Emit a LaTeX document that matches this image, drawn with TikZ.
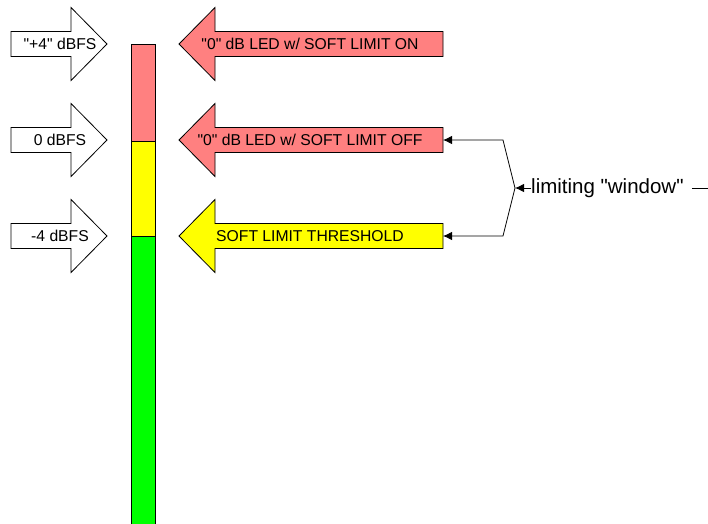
\documentclass[tikz,border=0pt]{standalone}
\usepackage{fontspec}
\setmainfont{Liberation Sans}[Ligatures=TeXOff]
\usetikzlibrary{arrows.meta}
\definecolor{salmon}{HTML}{FF8080}
\definecolor{yel}{HTML}{FFFF00}
\definecolor{grn}{HTML}{00FF00}
\begin{document}
\begin{tikzpicture}[x=1pt,y=-1pt,
  outl/.style={draw=black,line width=0.8pt,line join=miter},
  lbl/.style={font=\fontsize{15.7}{18}\selectfont,inner sep=0pt},
  conn/.style={line width=0.8pt,-{Latex[length=9pt,width=8.5pt]}}
]
\useasboundingbox (0,0) rectangle (708,523);
% left white arrows
\foreach \c/\t/\n in {44/{"+4" dBFS}/lp, 140/{0 dBFS}/lz, 236/{-4 dBFS}/lm}{
  \draw[outl,fill=white] (11,\c-12.5) -- (71,\c-12.5) -- (71,\c-36.5) -- (107,\c)
     -- (71,\c+36.5) -- (71,\c+12.5) -- (11,\c+12.5) -- cycle;
  \node[lbl] (\n) at (60,\c) {\t};
}
% meter bar
\draw[outl,fill=grn] (131,236) rectangle (155,535);
\draw[outl,fill=yel] (131,141) rectangle (155,236);
\draw[outl,fill=salmon] (131,44) rectangle (155,141);
% right arrows
\foreach \c/\col/\t/\n in {44/salmon/{"0" dB LED w/ SOFT LIMIT ON}/on, 140/salmon/{"0" dB LED w/ SOFT LIMIT OFF}/off, 236/yel/{SOFT LIMIT THRESHOLD}/thr}{
  \draw[outl,fill=\col] (443,\c-12.5) -- (215,\c-12.5) -- (215,\c-36.5) -- (179,\c)
     -- (215,\c+36.5) -- (215,\c+12.5) -- (443,\c+12.5) -- cycle;
  \node[lbl] (\n) at (310,\c) {\t};
  \coordinate (end\n) at (443,\c);
}
% limiting window connectors
\coordinate (fork) at (515,188);
\node[font=\fontsize{20.5}{24}\selectfont,inner sep=0pt,anchor=west] (win) at (531,188) {limiting "window"};
\draw[conn] (win.west) -- (fork);
\draw[conn] (fork) -- (503,140) -- (endoff);
\draw[conn] (fork) -- (503,236) -- (endthr);
\draw[line width=0.8pt] ([xshift=8pt]win.east) -- (715,188);
\end{tikzpicture}
\end{document}
